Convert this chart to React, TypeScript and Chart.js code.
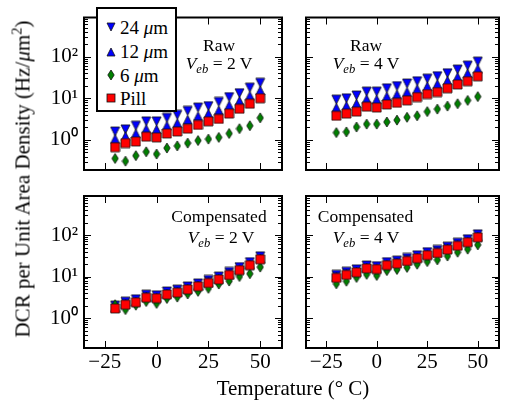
import React, { useEffect, useRef } from 'react';
import { Chart, registerables } from 'chart.js';

Chart.register(...registerables);

// ---------- data ----------
const temperatures = [-20, -15, -10, -5, 0, 5, 10, 15, 20, 25, 30, 35, 40, 45, 50];
const seriesLabels = ['24 µm', '12 µm', '6 µm', 'Pill'];

// Raw, Veb = 2 V
const raw2V_24um = [1.6, 1.8, 2.2, 2.8, 2.8, 3.4, 4.0, 5.0, 6.0, 6.5, 8.2, 10.7, 13.3, 18, 23.6];
const raw2V_12um = [1.06, 1.23, 1.42, 1.83, 1.79, 2.2, 2.53, 3.06, 3.71, 4.27, 5.12, 6.78, 8.63, 11.5, 15.4];
const raw2V_6um = [0.36, 0.31, 0.42, 0.52, 0.46, 0.64, 0.72, 0.84, 0.97, 1.05, 1.15, 1.43, 1.87, 2.2, 3.4];
const raw2V_pill = [0.67, 0.84, 0.92, 1.2, 1.15, 1.43, 1.6, 1.87, 2.3, 2.8, 3.2, 4.3, 5.6, 7.4, 10];

// Raw, Veb = 4 V
const raw4V_24um = [9.3, 10, 11.7, 14.5, 14.5, 17.4, 19.6, 22.7, 25.7, 29.6, 34, 40, 49, 61, 76];
const raw4V_12um = [5.95, 6.56, 7.49, 9.56, 9.33, 11.1, 12.4, 14.2, 16.6, 19.3, 21.9, 26.4, 32.5, 39.6, 50.6];
const raw4V_6um = [1.5, 1.56, 2.04, 2.4, 2.4, 2.7, 3.0, 3.5, 3.8, 4.8, 5.5, 6.5, 7.4, 8.9, 11];
const raw4V_pill = [3.8, 4.3, 4.8, 6.3, 6.0, 7.1, 7.8, 8.9, 10.7, 12.6, 14.1, 17.4, 21.5, 25.7, 33.7];

// Compensated, Veb = 2 V
const comp2V_24um = [2.0, 2.48, 2.83, 3.66, 3.54, 4.37, 4.84, 5.78, 6.84, 8.26, 10.0, 12.9, 16.9, 22.2, 30.7];
const comp2V_12um = [1.8, 2.2, 2.5, 3.3, 3.15, 3.9, 4.3, 5.1, 6.1, 7.35, 8.9, 11.4, 15.0, 19.7, 27.3];
const comp2V_6um = [2.1, 1.6, 2.04, 2.5, 2.25, 2.96, 3.2, 3.8, 4.4, 5.2, 6.6, 7.8, 10.0, 11.7, 16.9];
const comp2V_pill = [1.7, 2.1, 2.4, 3.1, 3.0, 3.7, 4.1, 4.9, 5.8, 7.0, 8.5, 10.9, 14.3, 18.8, 26];

// Compensated, Veb = 4 V
const comp4V_24um = [11.0, 13.0, 14.9, 18.5, 17.8, 22.2, 24.2, 28.0, 32.5, 38.6, 43.7, 52.5, 64.9, 79.1, 104];
const comp4V_12um = [9.8, 11.6, 13.2, 16.5, 15.9, 19.7, 21.5, 24.9, 28.9, 34.3, 38.9, 46.7, 57.8, 70.4, 92.4];
const comp4V_6um = [6.7, 7.7, 9.5, 11.3, 10.6, 13.9, 14.8, 16.6, 19.8, 22.9, 25.2, 31.2, 38.5, 45.6, 58];
const comp4V_pill = [9.3, 11, 12.6, 15.7, 15.1, 18.8, 20.5, 23.7, 27.5, 32.7, 37, 44.5, 55, 67, 88];

// axes
const xMin = -35;
const xMax = 60.5;
const yMin = 0.19;
const yMax = 870;
const xTickValues = [-25, 0, 25, 50];
const xTickLabels = ['\u221225', '0', '25', '50'];
const yTickValues = [1, 10, 100];
const yTickLabels = ['10\u2070', '10\u00b9', '10\u00b2'];
const yDecades = [0.1, 1, 10, 100];
const minorMultipliers = [1, 2, 3, 4, 5, 6, 7, 8, 9];

const FONT = "'Liberation Serif', 'Times New Roman', serif";
const BLUE = '#0000ff';
const GREEN = '#008000';
const RED = '#ff0000';
const EDGE = '#111111';

// ---------- marker images ----------
function makeMarker(kind: string): HTMLCanvasElement {
  const c = document.createElement('canvas');
  const w = kind === 'diamond' ? 8 : 11;
  const h = kind === 'diamond' ? 12 : 11;
  c.width = w;
  c.height = h;
  const g = c.getContext('2d')!;
  g.beginPath();
  if (kind === 'down') {
    g.moveTo(1, 1);
    g.lineTo(10, 1);
    g.lineTo(5.5, 10);
    g.fillStyle = BLUE;
  } else if (kind === 'up') {
    g.moveTo(5.5, 1);
    g.lineTo(10, 10);
    g.lineTo(1, 10);
    g.fillStyle = BLUE;
  } else if (kind === 'diamond') {
    g.moveTo(4, 1);
    g.lineTo(7.2, 6);
    g.lineTo(4, 11);
    g.lineTo(0.8, 6);
    g.fillStyle = GREEN;
  } else {
    g.rect(1, 1, 9, 9);
    g.fillStyle = RED;
  }
  g.closePath();
  g.fill();
  g.lineWidth = 0.8;
  g.strokeStyle = EDGE;
  g.stroke();
  return c;
}

const framePlugin = {
  id: 'panelFrame',
  afterDraw(chart: any) {
    const { ctx, chartArea, scales } = chart;
    const { left, right, top, bottom } = chartArea;
    const xs = scales.x;
    const ys = scales.y;
    const MAJOR = 7;
    const MINOR = 4;
    ctx.save();
    ctx.strokeStyle = '#000';
    ctx.lineWidth = 1;
    ctx.beginPath();
    for (const v of xTickValues) {
      const px = Math.round(xs.getPixelForValue(v)) + 0.5;
      ctx.moveTo(px, bottom);
      ctx.lineTo(px, bottom - MAJOR);
      ctx.moveTo(px, top);
      ctx.lineTo(px, top + MAJOR);
    }
    for (const d of yDecades) {
      for (const m of minorMultipliers) {
        const v = d * m;
        if (v < yMin || v > yMax) continue;
        const py = Math.round(ys.getPixelForValue(v)) + 0.5;
        const len = m === 1 ? MAJOR : MINOR;
        ctx.moveTo(left, py);
        ctx.lineTo(left + len, py);
        ctx.moveTo(right, py);
        ctx.lineTo(right - len, py);
      }
    }
    ctx.stroke();
    ctx.lineWidth = 2;
    ctx.strokeRect(left, top, right - left, bottom - top);
    ctx.restore();
  },
};

type PanelProps = {
  left: number;
  top: number;
  width: number;
  height: number;
  padding: { left: number; right: number; top: number; bottom: number };
  showX: boolean;
  showY: boolean;
  series: number[][];
};

function Panel({ left, top, width, height, padding, showX, showY, series }: PanelProps) {
  const ref = useRef<HTMLCanvasElement>(null);
  useEffect(() => {
    const markers = [makeMarker('down'), makeMarker('up'), makeMarker('diamond'), makeMarker('square')];
    const orders = [3, 2, 1, 0];
    const chart = new Chart(ref.current!, {
      type: 'scatter',
      data: {
        datasets: series.map((vals, i) => ({
          label: seriesLabels[i],
          data: temperatures.map((t, j) => ({ x: t, y: vals[j] })),
          pointStyle: markers[i] as any,
          pointRadius: 5,
          showLine: false,
          order: orders[i],
        })),
      },
      options: {
        animation: false,
        responsive: false,
        maintainAspectRatio: false,
        events: [],
        layout: { padding },
        plugins: { legend: { display: false }, tooltip: { enabled: false } },
        scales: {
          x: {
            type: 'linear',
            min: xMin,
            max: xMax,
            display: showX,
            grid: { display: false, drawTicks: false },
            border: { display: false },
            ticks: {
              autoSkip: false,
              maxRotation: 0,
              padding: 2,
              color: '#000',
              font: { family: FONT, size: 21 },
              callback: (v: any) => {
                const k = xTickValues.indexOf(Number(v));
                return k >= 0 ? xTickLabels[k] : '';
              },
            },
            afterBuildTicks: (s: any) => {
              s.ticks = xTickValues.map((v) => ({ value: v }));
            },
            afterFit: (s: any) => {
              s.height = showX ? 54 : 0;
              s.paddingLeft = 0;
              s.paddingRight = 0;
              s.paddingTop = 0;
              s.paddingBottom = 0;
            },
          },
          y: {
            type: 'logarithmic',
            min: yMin,
            max: yMax,
            display: showY,
            grid: { display: false, drawTicks: false },
            border: { display: false },
            ticks: {
              autoSkip: false,
              padding: 6,
              color: '#000',
              font: { family: FONT, size: 21 },
              callback: (v: any) => {
                const k = yTickValues.indexOf(Number(v));
                return k >= 0 ? yTickLabels[k] : '';
              },
            },
            afterBuildTicks: (s: any) => {
              s.ticks = yTickValues.map((v) => ({ value: v }));
            },
            afterFit: (s: any) => {
              s.width = showY ? 54 : 0;
              s.paddingLeft = 0;
              s.paddingRight = 0;
              s.paddingTop = 0;
              s.paddingBottom = 0;
            },
          },
        },
      } as any,
      plugins: [framePlugin],
    });
    return () => chart.destroy();
  }, []);
  return (
    <canvas
      ref={ref}
      width={width}
      height={height}
      style={{ position: 'absolute', left, top, width, height }}
    />
  );
}

const textBase: React.CSSProperties = {
  position: 'absolute',
  fontFamily: FONT,
  color: '#000',
  whiteSpace: 'nowrap',
  lineHeight: 1,
  transform: 'translate(-50%, -50%)',
};

function Note({ x, y, children, size = 17.5 }: { x: number; y: number; children: any; size?: number }) {
  return <div style={{ ...textBase, left: x, top: y, fontSize: size }}>{children}</div>;
}

function Veb({ v }: { v: string }) {
  return (
    <span>
      <i>V</i>
      <span style={{ fontSize: '72%', position: 'relative', top: '0.3em' }}>
        <i>eb</i>
      </span>
      {' = ' + v + ' V'}
    </span>
  );
}

function LegendMarker({ kind }: { kind: string }) {
  if (kind === 'down')
    return (
      <svg width="10" height="10" style={{ display: 'block' }}>
        <polygon points="1,1 9,1 5,9" fill={BLUE} stroke={EDGE} strokeWidth="0.8" />
      </svg>
    );
  if (kind === 'up')
    return (
      <svg width="10" height="10" style={{ display: 'block' }}>
        <polygon points="5,1 9,9 1,9" fill={BLUE} stroke={EDGE} strokeWidth="0.8" />
      </svg>
    );
  if (kind === 'diamond')
    return (
      <svg width="8" height="12" style={{ display: 'block' }}>
        <polygon points="4,1 7.2,6 4,11 0.8,6" fill={GREEN} stroke={EDGE} strokeWidth="0.8" />
      </svg>
    );
  return (
    <svg width="10" height="10" style={{ display: 'block' }}>
      <rect x="1" y="1" width="8" height="8" fill={RED} stroke={EDGE} strokeWidth="0.8" />
    </svg>
  );
}

function Legend() {
  const kinds = ['down', 'up', 'diamond', 'square'];
  const rowCenters = [20.3, 44.7, 68, 91.3];
  return (
    <div
      style={{
        position: 'absolute',
        left: 96,
        top: 7,
        width: 81,
        height: 105,
        boxSizing: 'border-box',
        border: '2px solid #000',
        background: '#fff',
        zIndex: 2,
      }}
    >
      {kinds.map((k, i) => (
        <div
          key={k}
          style={{
            position: 'absolute',
            left: 8,
            top: rowCenters[i] - 2 - 10,
            height: 20,
            display: 'flex',
            alignItems: 'center',
            fontFamily: FONT,
            fontSize: 19,
            whiteSpace: 'nowrap',
            lineHeight: 1,
          }}
        >
          <div style={{ width: 10, display: 'flex', justifyContent: 'center' }}>
            <LegendMarker kind={k} />
          </div>
          <span style={{ marginLeft: 4 }}>
            {i === 3 ? (
              'Pill'
            ) : (
              <>
                {seriesLabels[i].split(' ')[0] + ' '}
                <i>μ</i>m
              </>
            )}
          </span>
        </div>
      ))}
    </div>
  );
}

export default function App() {
  return (
    <div
      style={{
        position: 'fixed',
        left: 0,
        top: 0,
        width: 505,
        height: 402,
        background: '#fff',
        overflow: 'hidden',
      }}
    >
      <Panel
        left={30}
        top={0}
        width={258}
        height={176}
        padding={{ left: 0, right: 3, top: 17.5, bottom: 3 }}
        showX={false}
        showY={true}
        series={[raw2V_24um, raw2V_12um, raw2V_6um, raw2V_pill]}
      />
      <Panel
        left={300}
        top={0}
        width={205}
        height={176}
        padding={{ left: 3.5, right: 0.5, top: 17.5, bottom: 3 }}
        showX={false}
        showY={false}
        series={[raw4V_24um, raw4V_12um, raw4V_6um, raw4V_pill]}
      />
      <Panel
        left={30}
        top={190}
        width={258}
        height={212}
        padding={{ left: 0, right: 3, top: 2.5, bottom: 0 }}
        showX={true}
        showY={true}
        series={[comp2V_24um, comp2V_12um, comp2V_6um, comp2V_pill]}
      />
      <Panel
        left={300}
        top={190}
        width={205}
        height={212}
        padding={{ left: 3.5, right: 0.5, top: 2.5, bottom: 0 }}
        showX={true}
        showY={false}
        series={[comp4V_24um, comp4V_12um, comp4V_6um, comp4V_pill]}
      />

      <Note x={219} y={46}>Raw</Note>
      <Note x={219} y={64}>
        <Veb v="2" />
      </Note>
      <Note x={366} y={46}>Raw</Note>
      <Note x={366} y={64}>
        <Veb v="4" />
      </Note>
      <Note x={219} y={216.5}>Compensated</Note>
      <Note x={221} y={238}>
        <Veb v="2" />
      </Note>
      <Note x={365.5} y={216.5}>Compensated</Note>
      <Note x={366} y={238}>
        <Veb v="4" />
      </Note>

      <Legend />

      <div style={{ ...textBase, left: 293, top: 388, fontSize: 21 }}>Temperature (° C)</div>
      <div
        style={{
          ...textBase,
          left: 23,
          top: 179,
          fontSize: 21,
          transform: 'translate(-50%, -50%) rotate(-90deg)',
        }}
      >
        DCR per Unit Area Density (Hz/<i>μ</i>m<sup style={{ fontSize: '70%', lineHeight: 0 }}>2</sup>)
      </div>
    </div>
  );
}
